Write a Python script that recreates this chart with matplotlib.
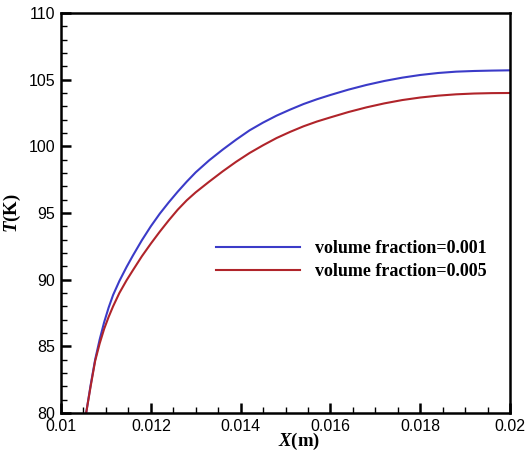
import matplotlib
matplotlib.use("Agg")
import matplotlib.pyplot as plt
from matplotlib.ticker import MultipleLocator

# values
x_blue = [0.01056, 0.01066, 0.01076, 0.01086, 0.01096, 0.01106, 0.01116, 0.01130,
          0.01146, 0.01160, 0.01180, 0.01200, 0.01220, 0.01240, 0.01260, 0.01280,
          0.01300, 0.01330, 0.01360, 0.01390, 0.01420, 0.01450, 0.01480, 0.01510,
          0.01540, 0.01570, 0.01600, 0.01640, 0.01680, 0.01720, 0.01760, 0.01800,
          0.01840, 0.01880, 0.01920, 0.01960, 0.02000]
t_blue = [80.0, 82.1, 84.0, 85.5, 86.8, 87.9, 88.85, 89.9,
          90.95, 91.8, 92.95, 94.0, 94.95, 95.8, 96.6, 97.35,
          98.05, 98.95, 99.75, 100.5, 101.2, 101.78, 102.3, 102.75,
          103.17, 103.53, 103.85, 104.25, 104.6, 104.9, 105.15, 105.35,
          105.5, 105.6, 105.65, 105.68, 105.7]

x_red = [0.01056, 0.01066, 0.01076, 0.01086, 0.01096, 0.01106, 0.01116, 0.01130,
         0.01146, 0.01160, 0.01180, 0.01200, 0.01220, 0.01240, 0.01260, 0.01280,
         0.01300, 0.01330, 0.01360, 0.01390, 0.01420, 0.01450, 0.01480, 0.01510,
         0.01540, 0.01570, 0.01600, 0.01640, 0.01680, 0.01720, 0.01760, 0.01800,
         0.01840, 0.01880, 0.01920, 0.01960, 0.02000]
t_red = [80.0, 82.0, 83.9, 85.2, 86.3, 87.2, 88.0, 89.0,
         89.95, 90.7, 91.75, 92.7, 93.6, 94.45, 95.25, 95.95,
         96.55, 97.35, 98.12, 98.84, 99.5, 100.08, 100.62, 101.08,
         101.5, 101.86, 102.17, 102.57, 102.92, 103.22, 103.47, 103.66,
         103.8, 103.9, 103.96, 103.99, 104.0]

labels = ["volume fraction=0.001", "volume fraction=0.005"]
xtick_vals = [0.01, 0.012, 0.014, 0.016, 0.018, 0.02]
xtick_text = ["0.01", "0.012", "0.014", "0.016", "0.018", "0.02"]

plt.rcParams["mathtext.fontset"] = "custom"
plt.rcParams["mathtext.it"] = "Liberation Serif:italic:bold"
plt.rcParams["mathtext.rm"] = "Liberation Serif:bold"

fig = plt.figure(figsize=(5.26, 4.51), dpi=100)
ax = fig.add_axes([0.116, 0.0843, 0.8536, 0.8869])

ax.plot(x_blue, t_blue, color="#3b3bc8", lw=1.5, label=labels[0])
ax.plot(x_red, t_red, color="#b0242a", lw=1.5, label=labels[1])

ax.set_xlim(0.01, 0.02)
ax.set_ylim(80, 110)
ax.xaxis.set_minor_locator(MultipleLocator(0.0005))
ax.yaxis.set_major_locator(MultipleLocator(5))
ax.yaxis.set_minor_locator(MultipleLocator(1))
ax.set_xticks(xtick_vals)
ax.set_xticklabels(xtick_text)

ax.tick_params(which="major", direction="in", length=7, width=1.8,
               labelsize=11.5, pad=4)
ax.tick_params(which="minor", direction="in", length=4, width=1.0)
for lab in ax.get_xticklabels() + ax.get_yticklabels():
    lab.set_fontfamily("Liberation Sans")
for sp in ax.spines.values():
    sp.set_linewidth(1.8)

ax.set_xlabel(r"$X$(m)", fontfamily="Liberation Serif", fontweight="bold",
              fontsize=13.5, labelpad=-2)
ax.xaxis.set_label_coords(0.53, -0.045)
ax.set_ylabel(r"$T$(K)", fontfamily="Liberation Serif", fontweight="bold",
              fontsize=13.5, labelpad=4)

ax.legend(loc="upper left", bbox_to_anchor=(0.31, 0.472), frameon=False,
          handlelength=4.6, handletextpad=0.85, labelspacing=0.3,
          prop={"family": "Liberation Serif", "weight": "bold", "size": 13})

fig.savefig("out.png", dpi=100)
